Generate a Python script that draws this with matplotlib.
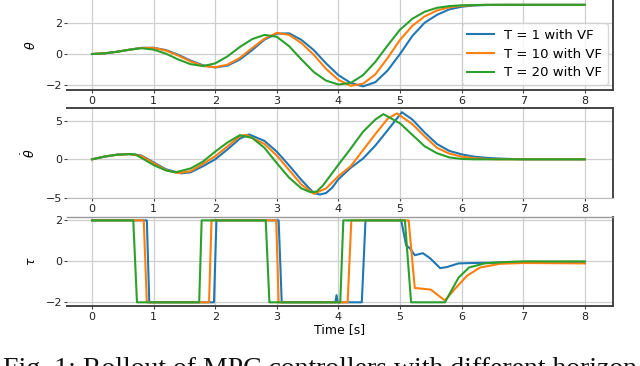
import matplotlib
matplotlib.use("Agg")
import matplotlib.pyplot as plt

labels = ["T = 1 with VF", "T = 10 with VF", "T = 20 with VF"]
colors = ["#1f77b4", "#ff7f0e", "#2ca02c"]

# theta (step 0.2 s)
t_theta = [0.0, 0.2, 0.4, 0.6, 0.8, 1.0, 1.2, 1.4, 1.6, 1.8, 2.0, 2.2, 2.4, 2.6, 2.8, 3.0,
           3.2, 3.4, 3.6, 3.8, 4.0, 4.2, 4.4, 4.6, 4.8, 5.0, 5.2, 5.4, 5.6, 5.8, 6.0, 6.2,
           6.4, 6.6, 7.0, 7.5, 8.0]
theta_t1 = [0.0, 0.04, 0.14, 0.27, 0.39, 0.40, 0.25, -0.05, -0.42, -0.72, -0.86, -0.74, -0.35,
            0.25, 0.92, 1.30, 1.32, 0.90, 0.25, -0.60, -1.35, -1.85, -2.07, -1.80, -1.05, 0.0,
            1.15, 2.00, 2.50, 2.85, 3.02, 3.10, 3.13, 3.14, 3.14, 3.14, 3.14]
theta_t10 = [0.0, 0.04, 0.14, 0.27, 0.39, 0.39, 0.22, -0.10, -0.47, -0.76, -0.85, -0.68, -0.25,
             0.38, 0.98, 1.35, 1.22, 0.70, -0.05, -0.95, -1.65, -2.03, -1.90, -1.30, -0.25, 0.90,
             1.80, 2.40, 2.78, 2.98, 3.08, 3.12, 3.14, 3.14, 3.14, 3.14, 3.14]
theta_t20 = [0.0, 0.04, 0.14, 0.27, 0.37, 0.28, 0.02, -0.35, -0.65, -0.77, -0.60, -0.15, 0.45,
             0.95, 1.22, 1.10, 0.50, -0.35, -1.15, -1.70, -1.95, -1.85, -1.35, -0.50, 0.55, 1.55,
             2.25, 2.70, 2.95, 3.06, 3.11, 3.13, 3.14, 3.14, 3.14, 3.14, 3.14]

# theta dot
t_dtheta_t1 = [0.0, 0.2, 0.4, 0.6, 0.8, 1.0, 1.2, 1.45, 1.6, 1.8, 2.0, 2.2, 2.4, 2.55, 2.8, 3.0,
               3.2, 3.4, 3.6, 3.7, 3.8, 3.9, 4.0, 4.2, 4.4, 4.6, 4.8, 5.03, 5.2, 5.4, 5.6, 5.8,
               6.0, 6.2, 6.4, 6.6, 6.8, 7.0, 8.0]
dtheta_t1 = [0.0, 0.35, 0.60, 0.68, 0.50, -0.40, -1.30, -1.83, -1.70, -0.90, 0.0, 1.30, 2.70,
             3.25, 2.40, 1.00, -0.80, -2.70, -4.40, -4.60, -4.40, -3.70, -2.60, -1.10, 0.10,
             1.80, 3.80, 6.15, 5.20, 3.50, 2.00, 1.10, 0.65, 0.35, 0.20, 0.10, 0.05, 0.0, 0.0]
t_dtheta_t10 = [0.0, 0.2, 0.4, 0.6, 0.8, 1.0, 1.2, 1.4, 1.6, 1.8, 2.0, 2.2, 2.4, 2.5, 2.8, 3.0,
                3.2, 3.4, 3.6, 3.8, 4.0, 4.2, 4.4, 4.6, 4.8, 4.95, 5.2, 5.4, 5.6, 5.8, 6.0, 6.2,
                6.4, 6.6, 8.0]
dtheta_t10 = [0.0, 0.35, 0.60, 0.68, 0.45, -0.50, -1.40, -1.80, -1.55, -0.60, 0.40, 1.70, 3.00,
              3.20, 2.00, 0.50, -1.40, -3.30, -4.50, -3.80, -2.20, -0.90, 1.20, 3.30, 5.30, 6.00,
              4.60, 3.00, 1.50, 0.75, 0.35, 0.15, 0.05, 0.0, 0.0]
t_dtheta_t20 = [0.0, 0.2, 0.4, 0.6, 0.7, 0.8, 1.0, 1.2, 1.35, 1.6, 1.8, 2.0, 2.2, 2.4, 2.6, 2.8,
                3.0, 3.2, 3.4, 3.55, 3.65, 3.75, 3.9, 4.0, 4.2, 4.4, 4.6, 4.73, 5.0, 5.2, 5.4, 5.6,
                5.8, 6.0, 6.2, 8.0]
dtheta_t20 = [0.0, 0.35, 0.60, 0.68, 0.65, 0.20, -0.75, -1.45, -1.70, -1.20, -0.30, 1.00, 2.20,
              3.15, 2.80, 1.50, -0.50, -2.40, -3.80, -4.30, -4.20, -3.40, -1.80, -0.70, 1.40,
              3.60, 5.20, 5.90, 4.70, 3.20, 1.70, 0.80, 0.25, 0.05, 0.0, 0.0]

# torque
t_tau_t1 = [0.0, 0.89, 0.93, 1.98, 2.02, 3.03, 3.08, 3.95, 3.97, 3.99, 4.38, 4.44, 5.02, 5.10,
            5.16, 5.24, 5.37, 5.49, 5.65, 5.76, 5.95, 6.2, 7.0, 8.0]
tau_t1 = [2, 2, -2, -2, 2, 2, -2, -2, -1.65, -2, -2, 2, 2, 0.78, 0.64, 0.30, 0.40, 0.15, -0.33,
          -0.28, -0.10, -0.08, -0.05, -0.08]
t_tau_t10 = [0.0, 0.84, 0.89, 1.90, 1.94, 2.99, 3.03, 4.15, 4.21, 5.14, 5.24, 5.50, 5.68, 5.73,
             5.92, 6.09, 6.30, 6.62, 7.0, 8.0]
tau_t10 = [2, 2, -2, -2, 2, 2, -2, -2, 2, 2, -1.30, -1.38, -1.80, -1.90, -1.25, -0.70, -0.30,
           -0.12, -0.08, -0.10]
t_tau_t20 = [0.0, 0.67, 0.73, 1.74, 1.78, 2.82, 2.88, 4.03, 4.08, 5.08, 5.18, 5.73, 5.95, 6.12,
             6.37, 6.60, 7.0, 8.0]
tau_t20 = [2, 2, -2, -2, 2, 2, -2, -2, 2, 2, -2, -2, -0.80, -0.30, -0.10, -0.05, 0.0, 0.0]

xticks = [0, 1, 2, 3, 4, 5, 6, 7, 8]

fig = plt.figure(figsize=(6.4, 3.66), dpi=100)
W, H = 640.0, 366.0
x0, x1 = 67, 613


def mk(top, bottom):
    return fig.add_axes([x0 / W, (H - bottom) / H, (x1 - x0) / W, (bottom - top) / H])


ax1 = mk(0, 90)
ax2 = mk(108, 198)
ax3 = mk(216.5, 306)

series = [
    (ax1, [(t_theta, theta_t1), (t_theta, theta_t10), (t_theta, theta_t20)], (-2.3, 3.45), [-2, 0, 2], r"$\theta$"),
    (ax2, [(t_dtheta_t1, dtheta_t1), (t_dtheta_t10, dtheta_t10), (t_dtheta_t20, dtheta_t20)], (-5.05, 6.7), [-5, 0, 5], r"$\dot{\theta}$"),
    (ax3, [(t_tau_t1, tau_t1), (t_tau_t10, tau_t10), (t_tau_t20, tau_t20)], (-2.18, 2.19), [-2, 0, 2], r"$\tau$"),
]

for ax, data, ylim, yt, yl in series:
    for (tx, vy), c, lab in zip(data, colors, labels):
        ax.plot(tx, vy, color=c, lw=1.5, label=lab)
    ax.set_xlim(-0.406, 8.458)
    ax.set_ylim(*ylim)
    ax.set_xticks(xticks)
    ax.set_yticks(yt)
    ax.grid(True, color="#cfcfcf", lw=0.9)
    ax.set_axisbelow(True)
    ax.tick_params(axis="both", labelsize=8, colors="#222222")
    ax.tick_params(axis="x", length=2.5, pad=1.5, width=0.8, color="#444444")
    ax.tick_params(axis="y", length=2, pad=1.5, width=0.8, color="#444444")
    ax.set_ylabel(yl, fontsize=9)
    ax.yaxis.set_label_coords(-0.053, 0.5)
    ax.spines["left"].set_visible(False)
    for s in ["top", "bottom", "right"]:
        ax.spines[s].set_color("#444444")
        ax.spines[s].set_linewidth(1.4)

ax1.spines["top"].set_visible(False)
ax2.spines["bottom"].set_color("#bbbbbb")
ax2.spines["bottom"].set_linewidth(0.8)
ax3.spines["top"].set_color("#999999")
ax3.spines["top"].set_linewidth(1.0)

ax3.set_xlabel("Time [s]", fontsize=9, labelpad=1)

leg = ax1.legend(loc="lower right", fontsize=9.5, frameon=True, borderaxespad=0.4,
                 handlelength=2.0, labelspacing=0.45)
leg.get_frame().set_edgecolor("#cccccc")

fig.text(0.004, -0.026, "Fig. 1: Rollout of MPC controllers with different horizon",
         fontsize=20, family="Liberation Serif", ha="left", va="baseline", color="#111111")

fig.savefig("out.png", dpi=100)
